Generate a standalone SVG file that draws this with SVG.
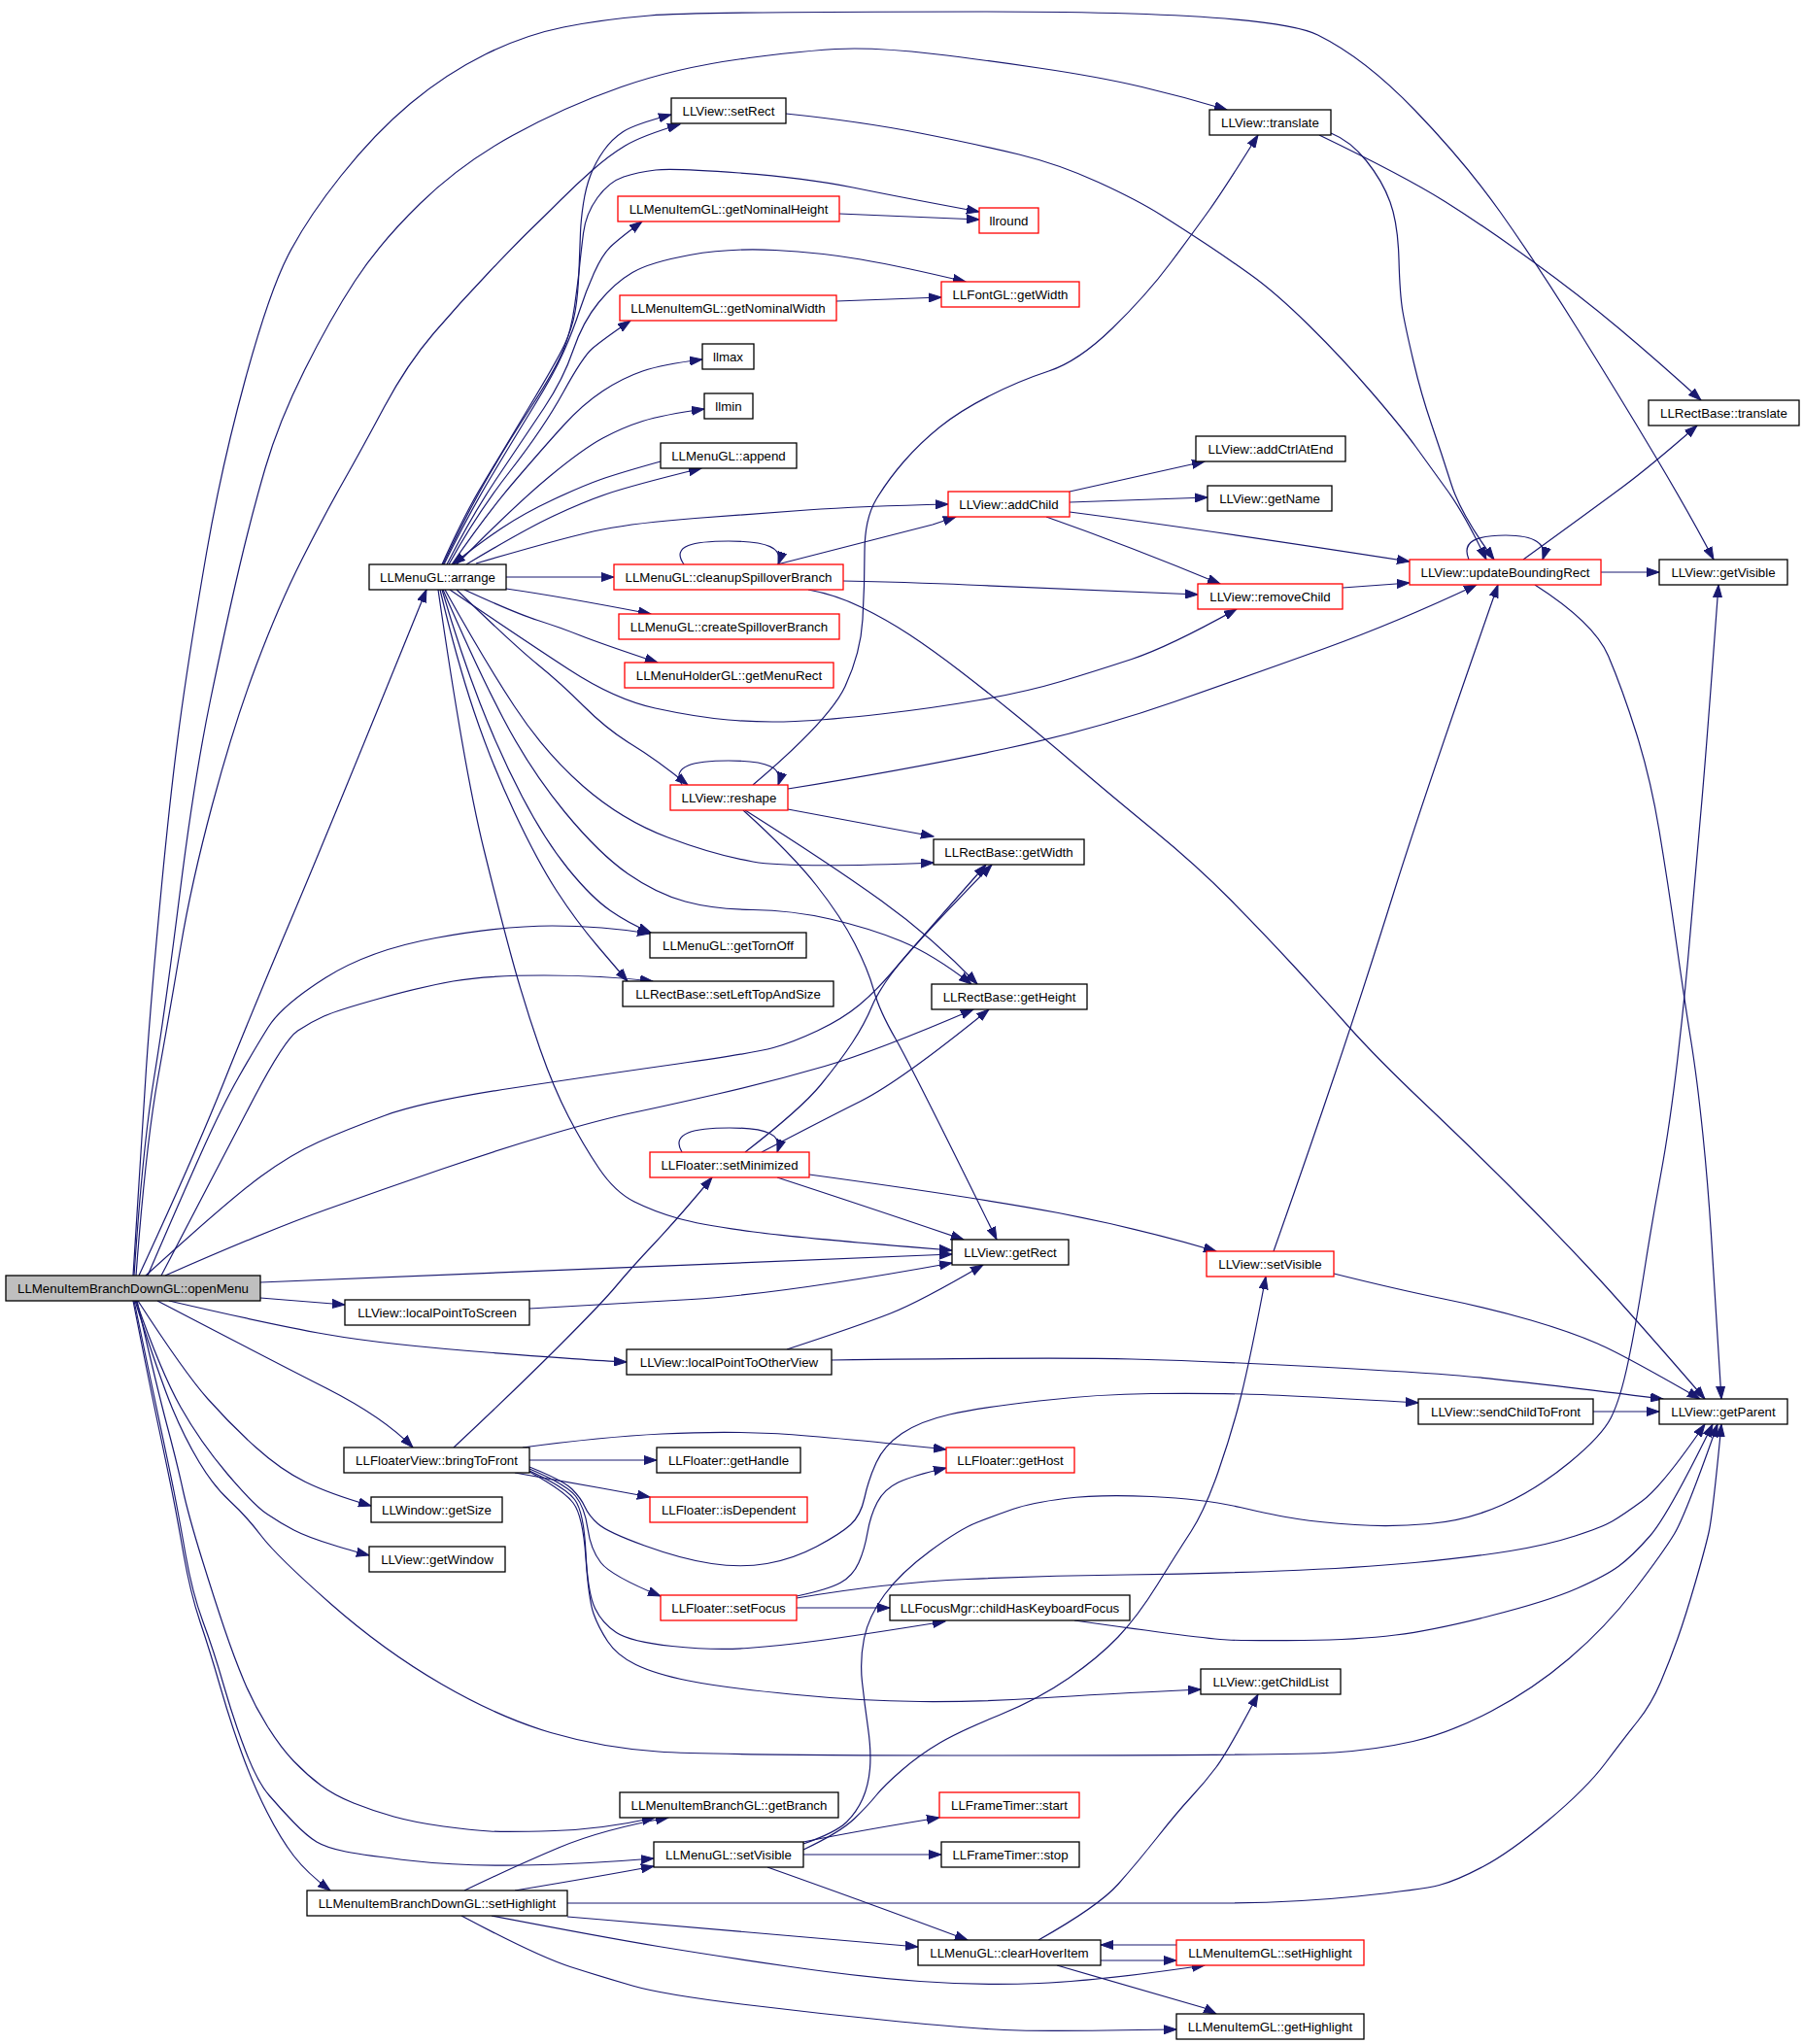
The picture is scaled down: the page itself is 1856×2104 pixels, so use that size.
<svg xmlns="http://www.w3.org/2000/svg" width="1856" height="2104" viewBox="0 0 1856 2104">
<defs>
<marker id="ah" markerWidth="14" markerHeight="10" refX="13" refY="5" orient="auto" markerUnits="userSpaceOnUse"><path d="M0,0.5 L13,5 L0,9.5 z" fill="#191970" stroke="#191970" stroke-width="1"/></marker>
</defs>
<style>
.n rect{fill:#fff;stroke:#000;stroke-width:1.3}
.r rect{stroke:#f00}
.g rect{fill:#bfbfbf}
text{font-family:"Liberation Sans",Arial,sans-serif;font-size:13.3px;fill:#000;text-anchor:middle}
#edges path{fill:none;stroke:#191970;stroke-width:1.2;marker-end:url(#ah);stroke-linejoin:round}
</style>
<rect width="1856" height="2104" fill="#fff"/>
<g id="edges">
<path d="M137,1313 Q145,1180 150.5,1100 Q156,1020 166.5,910.5 Q177,801 187,730 Q197,659 212.5,569.5 Q228,480 252.5,390.5 Q277,301 296.5,263 Q316,225 351,181 Q386,137 422.5,106.5 Q459,76 499.5,56 Q540,36 580,28 Q620,20 669,16 Q718,12 1013,12 Q1308,12 1356.5,36 Q1405,60 1456.5,113.5 Q1508,167 1544.5,218.5 Q1581,270 1623.5,338 Q1666,406 1703,468 Q1740,530 1764,576"/>
<path d="M138,1313 Q147,1180 158.5,1110 Q170,1040 185,920.5 Q200,801 216.5,721 Q233,641 246,585.5 Q259,530 273,482 Q287,434 313.5,381 Q340,328 365.5,289 Q391,250 432.5,209.5 Q474,169 527.5,139.5 Q581,110 639.5,89.5 Q698,69 771.5,59.5 Q845,50 879.5,50 Q914,50 961,55.5 Q1008,61 1069.5,70 Q1131,79 1175.5,89.5 Q1220,100 1263,113"/>
<path d="M140,1313 Q150,1180 162.5,1110 Q175,1040 186,974.5 Q197,909 218.5,828.5 Q240,748 263.5,685.5 Q287,623 310.5,576.5 Q334,530 353,496.5 Q372,463 395.5,419 Q419,375 446.5,343 Q474,311 504,279.5 Q534,248 547,235.5 Q560,223 576.5,206.5 Q593,190 610,175 Q627,160 643.5,150 Q660,140 700,128"/>
<path d="M455,581 Q478,530 496,500 Q514,470 543.5,421 Q573,372 581,355 Q589,338 592,321 Q595,304 596,278.5 Q597,253 597.5,239.5 Q598,226 600.5,209.5 Q603,193 608,180 Q613,167 621.5,155 Q630,143 641.5,135.5 Q653,128 691,118"/>
<path d="M143,1313 Q200,1190 230,1115 Q260,1040 300,945.5 Q340,851 439,607"/>
<path d="M152,1313 Q186,1234 207.5,1186 Q229,1138 245.5,1109 Q262,1080 276,1057.5 Q290,1035 335,1006.5 Q380,978 448.5,965.5 Q517,953 568.5,953 Q620,953 669,961"/>
<path d="M166,1313 Q230,1190 261.5,1130 Q293,1070 306.5,1061 Q320,1052 333.5,1046 Q347,1040 390,1028 Q433,1016 466.5,1010 Q500,1004 560,1004 Q620,1004 672,1010"/>
<path d="M150,1313 Q237,1234 268.5,1211 Q300,1188 328,1175.5 Q356,1163 395.5,1148.5 Q435,1134 527.5,1120 Q620,1106 698,1095 Q776,1084 796,1078.5 Q816,1073 841.5,1061 Q867,1049 884.5,1034.5 Q902,1020 921,997.5 Q940,975 1015,890"/>
<path d="M170,1313 Q277,1266 336,1245 Q395,1224 454.5,1203.5 Q514,1183 567,1167.5 Q620,1152 651,1145.5 Q682,1139 739,1126 Q796,1113 849,1097.5 Q902,1082 1002,1039"/>
<path d="M268,1320 L980,1291"/>
<path d="M268,1336 L355,1343"/>
<path d="M174,1339 Q277,1363 336,1373.5 Q395,1384 507.5,1392.5 Q620,1401 645,1402"/>
<path d="M162,1339 Q277,1399 336,1429 Q395,1459 425,1490"/>
<path d="M142,1339 Q190,1413 213.5,1439.5 Q237,1466 263,1489.5 Q289,1513 314.5,1525.5 Q340,1538 382,1550"/>
<path d="M140,1339 Q166,1413 186,1448.5 Q206,1484 233.5,1516.5 Q261,1549 275,1558.5 Q289,1568 302.5,1575 Q316,1582 342,1590 Q368,1598 380,1601"/>
<path d="M139,1339 Q165,1420 177.5,1450 Q190,1480 205,1505 Q220,1530 236.5,1545 Q253,1560 269,1581 Q285,1602 340,1650.5 Q395,1699 454.5,1733.5 Q514,1768 567,1783.5 Q620,1799 677.5,1803 Q735,1807 1032.5,1807 Q1330,1807 1373.5,1804 Q1417,1801 1454.5,1792.5 Q1492,1784 1535,1761.5 Q1578,1739 1615.5,1707 Q1653,1675 1682.5,1636.5 Q1712,1598 1723.5,1579 Q1735,1560 1768,1466"/>
<path d="M137,1339 Q155,1430 163.5,1470 Q172,1510 177,1535 Q182,1560 189,1600 Q196,1640 206,1669.5 Q216,1699 226.5,1735.5 Q237,1772 249,1805 Q261,1838 275,1865.5 Q289,1893 302.5,1910.5 Q316,1928 340,1946"/>
<path d="M138,1339 Q157,1430 165.5,1470 Q174,1510 179,1535 Q184,1560 191,1600 Q198,1640 209,1669.5 Q220,1699 230.5,1735.5 Q241,1772 253,1803 Q265,1834 277,1848 Q289,1862 302.5,1876 Q316,1890 326,1896 Q336,1902 356,1906 Q376,1910 425.5,1915.5 Q475,1921 537.5,1920 Q600,1919 673,1913"/>
<path d="M141,1339 Q162,1430 172,1467.5 Q182,1505 188,1532.5 Q194,1560 207.5,1603.5 Q221,1647 231,1676.5 Q241,1706 251,1730 Q261,1754 275,1776.5 Q289,1799 302.5,1813 Q316,1827 330,1837.5 Q344,1848 364,1856 Q384,1864 405.5,1870 Q427,1876 456.5,1880 Q486,1884 504,1885 Q522,1886 571,1884.5 Q620,1883 674,1871"/>
<path d="M478,1946 Q530,1921 575,1902 Q620,1883 688,1871"/>
<path d="M530,1946 Q620,1931 673,1921"/>
<path d="M584,1959 L1250,1959 Q1330,1959 1397,1952 Q1464,1945 1481.5,1940.5 Q1499,1936 1526.5,1921.5 Q1554,1907 1593.5,1874 Q1633,1841 1652.5,1815 Q1672,1789 1686,1771.5 Q1700,1754 1709.5,1731.5 Q1719,1709 1727,1686.5 Q1735,1664 1745,1629.5 Q1755,1595 1759,1577.5 Q1763,1560 1772,1466"/>
<path d="M584,1973 L620,1976 L945,2004"/>
<path d="M506,1972 Q620,1994 677.5,2003.5 Q735,2013 810.5,2024 Q886,2035 947,2039.5 Q1008,2044 1069.5,2041.5 Q1131,2039 1240,2023"/>
<path d="M475,1972 Q554,2014 587,2024.5 Q620,2035 651,2044 Q682,2053 763.5,2063 Q845,2073 926.5,2081 Q1008,2089 1049,2090 Q1090,2091 1211,2089"/>
<path d="M827,1896 Q886,1884 967,1871"/>
<path d="M827,1909 L969,1909"/>
<path d="M790,1922 Q886,1956 996,1997"/>
<path d="M827,1898 Q861,1886 871.5,1875.5 Q882,1865 888,1851.5 Q894,1838 895.5,1820.5 Q897,1803 893.5,1778.5 Q890,1754 887.5,1731.5 Q885,1709 889.5,1686.5 Q894,1664 910.5,1641.5 Q927,1619 957.5,1596.5 Q988,1574 1006,1567 Q1024,1560 1042.5,1553.5 Q1061,1547 1096,1542.5 Q1131,1538 1185.5,1540.5 Q1240,1543 1276.5,1551.5 Q1313,1560 1335.5,1563.5 Q1358,1567 1395,1569.5 Q1432,1572 1471.5,1568.5 Q1511,1565 1546.5,1549 Q1582,1533 1615.5,1505.5 Q1649,1478 1658.5,1459 Q1668,1440 1676,1402 Q1684,1364 1692,1312.5 Q1700,1261 1709.5,1209.5 Q1719,1158 1727,1089 Q1735,1020 1740,960 Q1745,900 1750.5,840 Q1756,780 1769,602"/>
<path d="M827,1904 Q865,1886 879.5,1872 Q894,1858 902,1848 Q910,1838 928.5,1822 Q947,1806 967.5,1794 Q988,1782 1028.5,1765.5 Q1069,1749 1100,1727.5 Q1131,1706 1151,1685 Q1171,1664 1191.5,1631 Q1212,1598 1226,1576.5 Q1240,1555 1254,1515 Q1268,1475 1277.5,1437 Q1287,1399 1303,1314"/>
<path d="M1311,1288 Q1346,1189 1374.5,1104.5 Q1403,1020 1434.5,919.5 Q1466,819 1542,602"/>
<path d="M1373,1311 Q1437,1327 1486,1337 Q1535,1347 1576,1359 Q1617,1371 1644.5,1383 Q1672,1395 1750,1440"/>
<path d="M702,1186 C690,1166 715,1161 751,1161 C790,1161 806,1168 800,1186"/>
<path d="M767,1186 Q825,1141 845,1116.5 Q865,1092 877.5,1073 Q890,1054 897.5,1036 Q905,1018 925,993 Q945,968 1021,890"/>
<path d="M784,1186 Q845,1154 886,1133.5 Q927,1113 1018,1039"/>
<path d="M800,1212 Q886,1240 992,1276"/>
<path d="M833,1209 Q1008,1233 1089.5,1248.5 Q1171,1264 1252,1288"/>
<path d="M467,1490 Q530,1431 575,1386 Q620,1341 634.5,1323.5 Q649,1306 673.5,1280 Q698,1254 733,1212"/>
<path d="M545,1347 Q620,1343 712,1337.5 Q804,1332 980,1300"/>
<path d="M810,1389 Q886,1364 916.5,1352 Q947,1340 1012,1302"/>
<path d="M856,1400 Q1090,1397 1165,1399 Q1240,1401 1338.5,1406 Q1437,1411 1495.5,1415.5 Q1554,1420 1712,1440"/>
<path d="M545,1503 L676,1503"/>
<path d="M538,1490 Q620,1479 681.5,1476 Q743,1473 794,1475.5 Q845,1478 974,1492"/>
<path d="M530,1516 L620,1532 L669,1541"/>
<path d="M545,1510 Q580,1524 589,1533 Q598,1542 602,1551 Q606,1560 615.5,1568.5 Q625,1577 663.5,1591 Q702,1605 732.5,1609.5 Q763,1614 789.5,1609.5 Q816,1605 840.5,1592 Q865,1579 875.5,1569.5 Q886,1560 890,1541.5 Q894,1523 902,1505.5 Q910,1488 928.5,1475.5 Q947,1463 977.5,1456 Q1008,1449 1069.5,1442 Q1131,1435 1185.5,1434.5 Q1240,1434 1281,1435 Q1322,1436 1460,1444"/>
<path d="M545,1512 Q583,1528 592.5,1540 Q602,1552 605,1573.5 Q608,1595 618.5,1608.5 Q629,1622 680,1643"/>
<path d="M545,1514 Q582,1531 591.5,1543.5 Q601,1556 603,1598 Q605,1640 612.5,1655.5 Q620,1671 634.5,1680.5 Q649,1690 692,1694.5 Q735,1699 769.5,1696.5 Q804,1694 845,1688.5 Q886,1683 973,1669"/>
<path d="M545,1515 Q580,1534 590,1547 Q600,1560 603,1603.5 Q606,1647 611,1661 Q616,1675 625.5,1689.5 Q635,1704 654.5,1713.5 Q674,1723 708.5,1730 Q743,1737 814.5,1744 Q886,1751 947,1751.5 Q1008,1752 1069.5,1748 Q1131,1744 1236,1739"/>
<path d="M820,1643 Q853,1636 865.5,1629 Q878,1622 884,1608.5 Q890,1595 893,1577.5 Q896,1560 903,1546.5 Q910,1533 924.5,1526 Q939,1519 974,1511"/>
<path d="M820,1655 L916,1655"/>
<path d="M820,1645 Q914,1629 996,1625.5 Q1078,1622 1159,1621 Q1240,1620 1318.5,1617 Q1397,1614 1456,1608.5 Q1515,1603 1554.5,1596.5 Q1594,1590 1621.5,1581 Q1649,1572 1659.5,1566 Q1670,1560 1690.5,1545 Q1711,1530 1755,1466"/>
<path d="M1106,1668 Q1240,1687 1263.5,1688 Q1287,1689 1342,1688.5 Q1397,1688 1436.5,1683 Q1476,1678 1535,1663 Q1594,1648 1623.5,1635 Q1653,1622 1666.5,1612 Q1680,1602 1698.5,1581 Q1717,1560 1763,1466"/>
<path d="M1640,1453 L1708,1453"/>
<path d="M1069,1997 Q1131,1962 1151,1939.5 Q1171,1917 1191.5,1891 Q1212,1865 1226,1850 Q1240,1835 1252,1819 Q1264,1803 1295,1744"/>
<path d="M1133,2018 L1211,2018"/>
<path d="M1211,2002 L1133,2002"/>
<path d="M1088,2023 L1240,2067 L1252,2073"/>
<path d="M457,581 Q482,530 506,490 Q530,450 550,417.5 Q570,385 580,362.5 Q590,340 596.5,320 Q603,300 611.5,281 Q620,262 629,253.5 Q638,245 661,228"/>
<path d="M456,581 Q480,530 500,495 Q520,460 546,420 Q572,380 580,360 Q588,340 591.5,315 Q595,290 596.5,275 Q598,260 600.5,240 Q603,220 615,203.5 Q627,187 642,182 Q657,177 675,175 Q693,173 761,178 Q829,183 878,193 Q927,203 1008,218"/>
<path d="M460,581 Q486,530 513,490 Q540,450 560,420 Q580,390 590,360.5 Q600,331 616.5,311 Q633,291 651,280.5 Q669,270 710,262.5 Q751,255 798,257.5 Q845,260 886,267 Q927,274 994,290"/>
<path d="M462,581 Q490,530 525,485 Q560,440 580,403.5 Q600,367 610,358.5 Q620,350 649,330"/>
<path d="M465,581 Q500,530 530,495 Q560,460 580,438 Q600,416 620.5,402.5 Q641,389 661.5,382 Q682,375 723,370"/>
<path d="M470,581 Q530,520 565,491 Q600,462 620.5,451 Q641,440 661.5,433.5 Q682,427 725,421"/>
<path d="M680,475 Q637,487 618.5,493.5 Q600,500 570,514 Q540,528 517.5,543 Q495,558 466,581"/>
<path d="M480,581 Q540,545 570,531 Q600,517 624.5,508.5 Q649,500 722,482"/>
<path d="M490,580 Q585,552 620.5,545 Q656,538 715.5,533.5 Q775,529 830.5,525 Q886,521 976,519"/>
<path d="M521,594 L632,594"/>
<path d="M521,606 Q577,614 670,632"/>
<path d="M478,607 Q530,631 553.5,638.5 Q577,646 597,654 Q617,662 677,682"/>
<path d="M463,607 Q538,658 585.5,689 Q633,720 674.5,729 Q716,738 749.5,741 Q783,744 818.5,742.5 Q854,741 907,735 Q960,729 1008.5,720.5 Q1057,712 1092,701.5 Q1127,691 1165,678.5 Q1203,666 1273,627"/>
<path d="M470,607 Q530,665 553.5,684 Q577,703 601,727 Q625,751 650.5,766.5 Q676,782 708,808"/>
<path d="M458,607 Q498,679 529.5,727 Q561,775 600.5,809.5 Q640,844 687.5,862 Q735,880 775,887 Q815,894 961,888"/>
<path d="M456,607 Q490,686 518,739.5 Q546,793 581.5,836 Q617,879 646.5,899.5 Q676,920 705.5,928 Q735,936 775,936.5 Q815,937 854.5,946 Q894,955 927,968.5 Q960,982 1000,1013"/>
<path d="M455,607 Q474,672 494,723.5 Q514,775 537.5,820 Q561,865 585,894.5 Q609,924 628.5,937.5 Q648,951 670,960"/>
<path d="M453,607 Q470,679 488,732.5 Q506,786 529.5,836 Q553,886 573,917 Q593,948 616.5,975.5 Q640,1003 646,1010"/>
<path d="M451,607 Q478,793 498,874 Q518,955 530,997.5 Q542,1040 556,1080 Q570,1120 585,1149 Q600,1178 616.5,1202.5 Q633,1227 653,1237 Q673,1247 697.5,1254 Q722,1261 775.5,1268 Q829,1275 980,1287"/>
<path d="M702,808 C690,788 715,783 750,783 C790,783 807,790 801,808"/>
<path d="M775,808 Q854,741 870,706.5 Q886,672 888,637.5 Q890,603 890,568.5 Q890,534 902,514 Q914,494 930.5,475 Q947,456 967.5,439.5 Q988,423 1018.5,407.5 Q1049,392 1079.5,382 Q1110,372 1145,338 Q1180,304 1205,270.5 Q1230,237 1245,216 Q1260,195 1295,139"/>
<path d="M811,812 Q940,791 1033.5,771 Q1127,751 1208.5,722.5 Q1290,694 1363.5,667.5 Q1437,641 1520,602"/>
<path d="M811,833 L961,861"/>
<path d="M767,834 Q854,889 907,927 Q960,965 1006,1013"/>
<path d="M765,834 Q815,879 840.5,911.5 Q866,944 880,971.5 Q894,999 899.5,1019.5 Q905,1040 922,1069.5 Q939,1099 1026,1276"/>
<path d="M704,581 C690,561 715,557 750,557 C790,557 807,564 801,581"/>
<path d="M800,581 L960,540 L984,532"/>
<path d="M868,598 Q960,600 1008.5,602.5 Q1057,605 1233,612"/>
<path d="M832,607 Q860,612 886.5,625 Q913,638 936.5,653.5 Q960,669 988,690.5 Q1016,712 1045,735.5 Q1074,759 1109,789 Q1144,819 1188,855 Q1232,891 1267,926.5 Q1302,962 1331,993.5 Q1360,1025 1388.5,1057 Q1417,1089 1466,1135.5 Q1515,1182 1554.5,1221.5 Q1594,1261 1633,1302.5 Q1672,1344 1755,1440"/>
<path d="M864,220 L1008,226"/>
<path d="M861,310 L969,306"/>
<path d="M1101,506 L1240,475"/>
<path d="M1101,517 L1243,512"/>
<path d="M1101,527 Q1232,544 1451,578"/>
<path d="M1077,532 Q1162,562 1256,601"/>
<path d="M1382,605 L1451,600"/>
<path d="M809,117 Q886,125 947,137 Q1008,149 1049,159 Q1090,169 1130.5,187.5 Q1171,206 1195.5,221.5 Q1220,237 1240.5,250.5 Q1261,264 1287,282.5 Q1313,301 1347.5,335 Q1382,369 1412.5,404.5 Q1443,440 1457.5,460 Q1472,480 1490,505 Q1508,530 1530,576"/>
<path d="M1358,139 Q1447,182 1487.5,207.5 Q1528,233 1577,268.5 Q1626,304 1666.5,338 Q1707,372 1751,412"/>
<path d="M1370,137 Q1390,145 1406.5,165.5 Q1423,186 1431,208 Q1439,230 1440,267 Q1441,304 1444,321 Q1447,338 1455,372 Q1463,406 1473.5,436.5 Q1484,467 1494,498.5 Q1504,530 1538,576"/>
<path d="M1512,576 C1504,557 1520,551 1550,551 C1580,551 1593,560 1588,576"/>
<path d="M1648,589 L1708,589"/>
<path d="M1568,576 Q1641,523 1670,501.5 Q1699,480 1747,438"/>
<path d="M1580,602 Q1641,641 1655.5,675 Q1670,709 1684.5,755 Q1699,801 1708,855 Q1717,909 1725.5,969.5 Q1734,1030 1740.5,1070 Q1747,1110 1753,1168.5 Q1759,1227 1763,1295.5 Q1767,1364 1772,1440"/>
</g>
<g id="n_openMenu" class="n g"><rect x="6" y="1313" width="262" height="26"/><text x="137" y="1331">LLMenuItemBranchDownGL::openMenu</text></g>
<g id="n_arrange" class="n"><rect x="380" y="581" width="141" height="26"/><text x="450.5" y="599">LLMenuGL::arrange</text></g>
<g id="n_setRect" class="n"><rect x="691" y="101" width="118" height="26"/><text x="750" y="119">LLView::setRect</text></g>
<g id="n_getNominalHeight" class="n r"><rect x="636" y="202" width="228" height="26"/><text x="750" y="220">LLMenuItemGL::getNominalHeight</text></g>
<g id="n_llround" class="n r"><rect x="1008" y="214" width="61" height="26"/><text x="1038.5" y="232">llround</text></g>
<g id="n_getNominalWidth" class="n r"><rect x="638" y="304" width="223" height="26"/><text x="749.5" y="322">LLMenuItemGL::getNominalWidth</text></g>
<g id="n_fontGetWidth" class="n r"><rect x="969" y="290" width="142" height="26"/><text x="1040" y="308">LLFontGL::getWidth</text></g>
<g id="n_llmax" class="n"><rect x="723" y="354" width="53" height="26"/><text x="749.5" y="372">llmax</text></g>
<g id="n_llmin" class="n"><rect x="725" y="405" width="50" height="26"/><text x="750" y="423">llmin</text></g>
<g id="n_append" class="n"><rect x="680" y="456" width="140" height="26"/><text x="750" y="474">LLMenuGL::append</text></g>
<g id="n_addChild" class="n r"><rect x="976" y="506" width="125" height="26"/><text x="1038.5" y="524">LLView::addChild</text></g>
<g id="n_viewTranslate" class="n"><rect x="1245" y="113" width="125" height="26"/><text x="1307.5" y="131">LLView::translate</text></g>
<g id="n_rectTranslate" class="n"><rect x="1697" y="412" width="155" height="26"/><text x="1774.5" y="430">LLRectBase::translate</text></g>
<g id="n_addCtrlAtEnd" class="n"><rect x="1231" y="449" width="154" height="26"/><text x="1308" y="467">LLView::addCtrlAtEnd</text></g>
<g id="n_getName" class="n"><rect x="1243" y="500" width="128" height="26"/><text x="1307" y="518">LLView::getName</text></g>
<g id="n_cleanup" class="n r"><rect x="632" y="581" width="236" height="26"/><text x="750" y="599">LLMenuGL::cleanupSpilloverBranch</text></g>
<g id="n_createSpill" class="n r"><rect x="637" y="632" width="227" height="26"/><text x="750.5" y="650">LLMenuGL::createSpilloverBranch</text></g>
<g id="n_getMenuRect" class="n r"><rect x="643" y="682" width="215" height="26"/><text x="750.5" y="700">LLMenuHolderGL::getMenuRect</text></g>
<g id="n_reshape" class="n r"><rect x="690" y="808" width="121" height="26"/><text x="750.5" y="826">LLView::reshape</text></g>
<g id="n_getTornOff" class="n"><rect x="669" y="960" width="161" height="26"/><text x="749.5" y="978">LLMenuGL::getTornOff</text></g>
<g id="n_setLTS" class="n"><rect x="641" y="1010" width="217" height="26"/><text x="749.5" y="1028">LLRectBase::setLeftTopAndSize</text></g>
<g id="n_ubr" class="n r"><rect x="1451" y="576" width="197" height="26"/><text x="1549.5" y="594">LLView::updateBoundingRect</text></g>
<g id="n_getVisible" class="n"><rect x="1708" y="576" width="132" height="26"/><text x="1774" y="594">LLView::getVisible</text></g>
<g id="n_removeChild" class="n r"><rect x="1233" y="601" width="149" height="26"/><text x="1307.5" y="619">LLView::removeChild</text></g>
<g id="n_rectGetWidth" class="n"><rect x="961" y="864" width="155" height="26"/><text x="1038.5" y="882">LLRectBase::getWidth</text></g>
<g id="n_rectGetHeight" class="n"><rect x="959" y="1013" width="160" height="26"/><text x="1039" y="1031">LLRectBase::getHeight</text></g>
<g id="n_setMinimized" class="n r"><rect x="669" y="1186" width="164" height="26"/><text x="751" y="1204">LLFloater::setMinimized</text></g>
<g id="n_getRect" class="n"><rect x="980" y="1276" width="120" height="26"/><text x="1040" y="1294">LLView::getRect</text></g>
<g id="n_lpts" class="n"><rect x="355" y="1338" width="190" height="26"/><text x="450" y="1356">LLView::localPointToScreen</text></g>
<g id="n_lptov" class="n"><rect x="645" y="1389" width="211" height="26"/><text x="750.5" y="1407">LLView::localPointToOtherView</text></g>
<g id="n_bringToFront" class="n"><rect x="354" y="1490" width="191" height="26"/><text x="449.5" y="1508">LLFloaterView::bringToFront</text></g>
<g id="n_getHandle" class="n"><rect x="676" y="1490" width="148" height="26"/><text x="750" y="1508">LLFloater::getHandle</text></g>
<g id="n_getHost" class="n r"><rect x="974" y="1490" width="132" height="26"/><text x="1040" y="1508">LLFloater::getHost</text></g>
<g id="n_isDependent" class="n r"><rect x="669" y="1541" width="162" height="26"/><text x="750" y="1559">LLFloater::isDependent</text></g>
<g id="n_viewSetVisible" class="n r"><rect x="1242" y="1288" width="131" height="26"/><text x="1307.5" y="1306">LLView::setVisible</text></g>
<g id="n_sendChildToFront" class="n"><rect x="1460" y="1440" width="180" height="26"/><text x="1550" y="1458">LLView::sendChildToFront</text></g>
<g id="n_getParent" class="n"><rect x="1708" y="1440" width="132" height="26"/><text x="1774" y="1458">LLView::getParent</text></g>
<g id="n_getSize" class="n"><rect x="382" y="1541" width="135" height="26"/><text x="449.5" y="1559">LLWindow::getSize</text></g>
<g id="n_getWindow" class="n"><rect x="380" y="1592" width="140" height="26"/><text x="450" y="1610">LLView::getWindow</text></g>
<g id="n_setFocus" class="n r"><rect x="680" y="1642" width="140" height="26"/><text x="750" y="1660">LLFloater::setFocus</text></g>
<g id="n_childHasKF" class="n"><rect x="916" y="1642" width="247" height="26"/><text x="1039.5" y="1660">LLFocusMgr::childHasKeyboardFocus</text></g>
<g id="n_getChildList" class="n"><rect x="1236" y="1718" width="144" height="26"/><text x="1308" y="1736">LLView::getChildList</text></g>
<g id="n_getBranch" class="n"><rect x="638" y="1845" width="225" height="26"/><text x="750.5" y="1863">LLMenuItemBranchGL::getBranch</text></g>
<g id="n_ftStart" class="n r"><rect x="967" y="1845" width="144" height="26"/><text x="1039" y="1863">LLFrameTimer::start</text></g>
<g id="n_menuSetVisible" class="n"><rect x="673" y="1896" width="154" height="26"/><text x="750" y="1914">LLMenuGL::setVisible</text></g>
<g id="n_ftStop" class="n"><rect x="969" y="1896" width="142" height="26"/><text x="1040" y="1914">LLFrameTimer::stop</text></g>
<g id="n_bdSetHighlight" class="n"><rect x="316" y="1946" width="268" height="26"/><text x="450" y="1964">LLMenuItemBranchDownGL::setHighlight</text></g>
<g id="n_clearHover" class="n"><rect x="945" y="1997" width="188" height="26"/><text x="1039" y="2015">LLMenuGL::clearHoverItem</text></g>
<g id="n_itemSetHighlight" class="n r"><rect x="1211" y="1997" width="193" height="26"/><text x="1307.5" y="2015">LLMenuItemGL::setHighlight</text></g>
<g id="n_getHighlight" class="n"><rect x="1211" y="2073" width="193" height="26"/><text x="1307.5" y="2091">LLMenuItemGL::getHighlight</text></g>
</svg>
